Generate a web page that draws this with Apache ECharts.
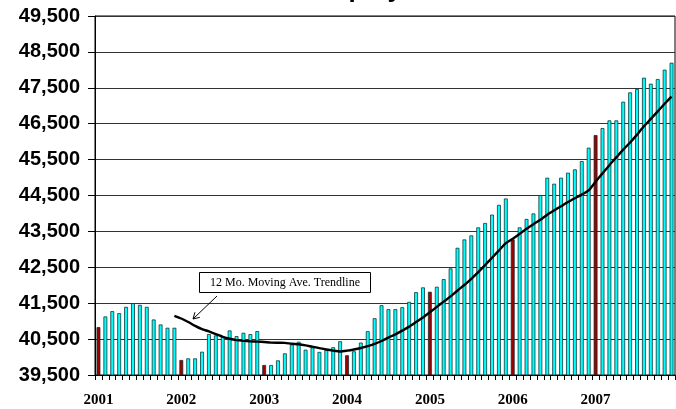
<!DOCTYPE html>
<html>
<head>
<meta charset="utf-8">
<script src="https://cdn.jsdelivr.net/npm/echarts@6/dist/echarts.min.js"></script>
<style>
html,body{margin:0;padding:0;background:#fff;}
#c{width:676px;height:409px;}
</style>
</head>
<body>
<div id="c"></div>
<script>
const years = ['2001','2002','2003','2004','2005','2006','2007'];
const months = ['Jan','Feb','Mar','Apr','May','Jun','Jul','Aug','Sep','Oct','Nov','Dec'];
const categories = [];
years.forEach(y => months.forEach(m => categories.push(m + ' ' + y)));

const employment = [
  40833, 41130, 41278, 41222, 41398, 41500, 41454, 41398, 41046, 40907, 40815, 40815,
  39917, 39963, 39963, 40148, 40639, 40602, 40565, 40741, 40583, 40676, 40639, 40722,
  39778, 39778, 39907, 40102, 40352, 40426, 40204, 40270, 40142, 40198, 40272, 40440,
  40049, 40160, 40402, 40719, 41081, 41444, 41333, 41333, 41388, 41537, 41807, 41940,
  41818, 41958, 42170, 42470, 43042, 43276, 43388, 43612, 43734, 43967, 44238, 44416,
  43276, 43612, 43846, 44000, 44512, 44995, 44828, 44995, 45134, 45227, 45459, 45831,
  46183, 46378, 46592, 46592, 47112, 47372, 47465, 47780, 47613, 47743, 48003, 48198
];

const movingAvg = [
  null, null, null, null, null, null, null, null, null, null, null, 41150,
  41073, 40976, 40867, 40777, 40714, 40639, 40565, 40510, 40472, 40452, 40438, 40430,
  40418, 40403, 40398, 40394, 40370, 40356, 40326, 40286, 40250, 40210, 40179, 40156,
  40178, 40210, 40251, 40303, 40364, 40448, 40543, 40631, 40735, 40847, 40974, 41099,
  41247, 41397, 41544, 41690, 41853, 42006, 42177, 42367, 42563, 42765, 42968, 43174,
  43296, 43433, 43573, 43701, 43823, 43966, 44086, 44202, 44318, 44423, 44525, 44643,
  44885, 45116, 45345, 45561, 45777, 45975, 46195, 46427, 46634, 46843, 47055, 47253
];

const yMin = 39500, yMax = 49500, yStep = 1000;
const titleText = 'Employment';
const noteText = '12 Mo. Moving Ave. Trendline';

const chart = echarts.init(document.getElementById('c'), null, {renderer: 'canvas'});

// annotation arrow geometry
const a0 = [217, 296], a1 = [193, 319];
const dx = a1[0] - a0[0], dy = a1[1] - a0[1];
const len = Math.sqrt(dx*dx + dy*dy);
const bx = -dx/len, by = -dy/len;
const hl = 7, ang = Math.PI/6;
const h1 = [a1[0] + hl*(Math.cos(ang)*bx - Math.sin(ang)*by), a1[1] + hl*(Math.sin(ang)*bx + Math.cos(ang)*by)];
const h2 = [a1[0] + hl*(Math.cos(-ang)*bx - Math.sin(-ang)*by), a1[1] + hl*(Math.sin(-ang)*bx + Math.cos(-ang)*by)];

chart.setOption({
  animation: false,
  backgroundColor: '#fff',
  title: {
    text: titleText,
    left: 308, top: -23, padding: 0,
    textStyle: {fontSize: 26, fontWeight: 'bold', fontFamily: 'Liberation Sans, Arial, sans-serif', color: '#000'}
  },
  grid: {left: 95, right: 1, top: 16, bottom: 34, show: true, borderColor: '#000', borderWidth: 1, containLabel: false},
  xAxis: {
    type: 'category',
    data: categories,
    boundaryGap: true,
    axisLine: {show: true, lineStyle: {color: '#000', width: 1}},
    axisTick: {show: true, interval: 0, length: 5, lineStyle: {color: '#000', width: 1}},
    axisLabel: {
      interval: 0,
      margin: 18,
      formatter: (v, i) => (i % 12 === 0 ? v.split(' ')[1] : ''),
      fontFamily: 'Liberation Serif, Times New Roman, serif',
      fontWeight: 'bold', fontSize: 15, color: '#000'
    },
    splitLine: {show: false}
  },
  yAxis: {
    type: 'value',
    min: yMin, max: yMax, interval: yStep,
    axisLine: {show: true, lineStyle: {color: '#000', width: 1}},
    axisTick: {show: true, length: 7, lineStyle: {color: '#000', width: 1}},
    axisLabel: {
      margin: 15,
      formatter: v => v.toLocaleString('en-US'),
      fontFamily: 'Liberation Sans, Arial, sans-serif',
      fontWeight: 'bold', fontSize: 20, color: '#000'
    },
    splitLine: {show: true, lineStyle: {color: '#333', width: 1}}
  },
  series: [
    {
      type: 'bar',
      data: employment,
      barWidth: 3.8,
      itemStyle: {
        color: p => (p.dataIndex % 12 === 0 ? '#A00000' : '#00FFFF'),
        borderColor: '#0b2b2b',
        borderWidth: 0.75
      },
      z: 2
    },
    {
      type: 'line',
      data: movingAvg,
      showSymbol: false,
      symbol: 'none',
      smooth: 0.2,
      connectNulls: false,
      lineStyle: {color: '#000', width: 2.4},
      z: 5
    }
  ],
  graphic: [
    {
      type: 'rect', z: 100,
      shape: {x: 199.5, y: 272.5, width: 171, height: 20},
      style: {fill: '#fff', stroke: '#000', lineWidth: 1}
    },
    {
      type: 'text', z: 101,
      x: 285, y: 283,
      style: {text: noteText, fontFamily: 'Liberation Serif, Times New Roman, serif', fontSize: 12, fill: '#000', align: 'center', verticalAlign: 'middle'}
    },
    {
      type: 'polyline', z: 101,
      shape: {points: [a0, a1]},
      style: {stroke: '#000', lineWidth: 1, fill: null}
    },
    {
      type: 'polyline', z: 101,
      shape: {points: [h1, a1, h2]},
      style: {stroke: '#000', lineWidth: 1, fill: null}
    }
  ]
});
</script>
</body>
</html>
